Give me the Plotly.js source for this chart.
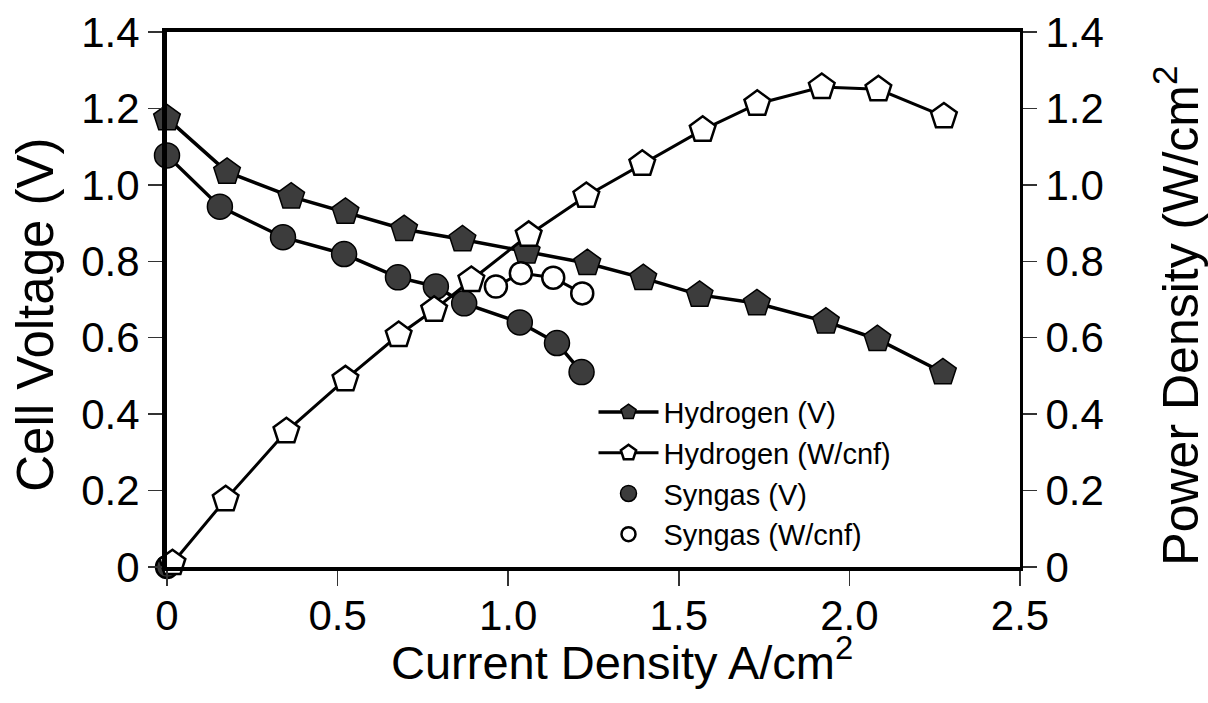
<!DOCTYPE html>
<html>
<head>
<meta charset="utf-8">
<script src="https://cdn.plot.ly/plotly-3.0.1.min.js"></script>
<style>html,body{margin:0;padding:0;background:#fff;}#chart{width:1208px;height:703px;}</style>
</head>
<body>
<div id="chart"></div>
<script>
// Current density (A/cm2) and values
const h2VoltCurrent = [0, 0.176, 0.364, 0.523, 0.695, 0.866, 1.054, 1.232, 1.396, 1.561, 1.729, 1.931, 2.082, 2.274];
const h2Voltage     = [1.174, 1.034, 0.969, 0.929, 0.884, 0.857, 0.825, 0.795, 0.756, 0.712, 0.690, 0.642, 0.596, 0.509];

const h2PowerCurrent = [0.016, 0.172, 0.35, 0.523, 0.679, 0.783, 0.892, 1.06, 1.229, 1.393, 1.57, 1.73, 1.919, 2.085, 2.277];
const h2Power        = [0.01, 0.177, 0.355, 0.491, 0.607, 0.673, 0.751, 0.869, 0.971, 1.055, 1.144, 1.212, 1.256, 1.25, 1.179];

const sgVoltCurrent = [0, 0.155, 0.34, 0.519, 0.677, 0.788, 0.871, 1.034, 1.143, 1.215];
const sgVoltage     = [1.077, 0.943, 0.863, 0.819, 0.758, 0.734, 0.690, 0.640, 0.586, 0.510];

const sgPowerCurrent = [0, null, 0.964, 1.037, 1.132, 1.217];
const sgPower        = [0, null, 0.734, 0.769, 0.757, 0.716];

const yTickVals = [0, 0.2, 0.4, 0.6, 0.8, 1.0, 1.2, 1.4];
const yTickText = ['0', '0.2', '0.4', '0.6', '0.8', '1.0', '1.2', '1.4'];
const xTickVals = [0, 0.5, 1.0, 1.5, 2.0, 2.5];
const xTickText = ['0', '0.5', '1.0', '1.5', '2.0', '2.5'];

const FONT = 'Liberation Sans, Arial, Helvetica, sans-serif';
const DARK = '#3c3c3c';

const sgPowerColors = sgPowerCurrent.map((v, i) => i === 0 ? DARK : '#ffffff');

const traces = [
  {
    x: sgPowerCurrent, y: sgPower, yaxis: 'y2', mode: 'lines+markers', name: 'Syngas (W/cnf)',
    showlegend: false, cliponaxis: false, connectgaps: false,
    line: {color: '#000', width: 3},
    marker: {symbol: 'circle', size: 22, color: sgPowerColors, line: {color: '#000', width: 2.5}}
  },
  {
    x: sgVoltCurrent, y: sgVoltage, mode: 'lines+markers', name: 'Syngas (V)',
    showlegend: false, cliponaxis: false,
    line: {color: '#000', width: 3.5},
    marker: {symbol: 'circle', size: 25, color: DARK, line: {color: '#000', width: 1.5}}
  },
  {
    x: h2VoltCurrent, y: h2Voltage, mode: 'lines+markers', name: 'Hydrogen (V)',
    legendrank: 1, cliponaxis: false,
    line: {color: '#000', width: 3.5},
    marker: {symbol: 'pentagon', size: 28, color: DARK, line: {color: '#000', width: 1.5}}
  },
  {
    x: h2PowerCurrent, y: h2Power, yaxis: 'y2', mode: 'lines+markers', name: 'Hydrogen (W/cnf)',
    legendrank: 2, cliponaxis: false,
    line: {color: '#000', width: 3},
    marker: {symbol: 'pentagon', size: 27, color: '#ffffff', line: {color: '#000', width: 2.5}}
  },
  {
    x: [null], y: [null], mode: 'markers', name: 'Syngas (V)', legendrank: 3,
    marker: {symbol: 'circle', size: 16, color: DARK, line: {color: '#000', width: 1.5}}
  },
  {
    x: [null], y: [null], mode: 'markers', name: 'Syngas (W/cnf)', legendrank: 4,
    marker: {symbol: 'circle', size: 14, color: '#fff', line: {color: '#000', width: 2.5}}
  }
];

const tickCommon = {
  ticks: 'outside', ticklen: 14, tickwidth: 1.5, tickcolor: '#333',
  showgrid: false, zeroline: false,
  tickfont: {family: FONT, size: 42, color: '#000'}
};

const layout = {
  width: 1208, height: 703,
  margin: {l: 167, r: 188, t: 32, b: 136, pad: 0},
  paper_bgcolor: '#fff', plot_bgcolor: '#fff',
  font: {family: FONT, color: '#000'},
  showlegend: true,
  legend: {
    x: 0.50, y: 0.337, xanchor: 'left', yanchor: 'top',
    bgcolor: 'rgba(0,0,0,0)', borderwidth: 0,
    font: {family: FONT, size: 29, color: '#000'},
    itemwidth: 60, tracegroupgap: 0
  },
  xaxis: Object.assign({}, tickCommon, {
    range: [0, 2.5], tickvals: xTickVals, ticktext: xTickText,
    showline: true, linewidth: 4, linecolor: '#000', mirror: true, ticklen: 15,
    ticklabelstandoff: -6
  }),
  yaxis: Object.assign({}, tickCommon, {
    range: [0, 1.4], tickvals: yTickVals, ticktext: yTickText,
    showline: true, linewidth: 5, linecolor: '#000'
  }),
  yaxis2: Object.assign({}, tickCommon, {
    range: [0, 1.4], tickvals: yTickVals, ticktext: yTickText,
    overlaying: 'y', side: 'right',
    showline: true, linewidth: 3, linecolor: '#000'
  }),
  annotations: [
    {text: 'Current Density A/cm<sup>2</sup>', xref: 'paper', yref: 'paper', x: 0.533, y: -0.172,
     xanchor: 'center', yanchor: 'middle', showarrow: false, font: {family: FONT, size: 47, color: '#000'}},
    {text: 'Cell Voltage (V)', xref: 'paper', yref: 'paper', x: -0.155, y: 0.471, textangle: -90,
     xanchor: 'center', yanchor: 'middle', showarrow: false, font: {family: FONT, size: 51, color: '#000'}},
    {text: 'Power Density (W/cm<sup>2</sup>', xref: 'paper', yref: 'paper', x: 1.183, y: 0.47, textangle: -90,
     xanchor: 'center', yanchor: 'middle', showarrow: false, font: {family: FONT, size: 50, color: '#000'}}
  ]
};

Plotly.newPlot('chart', traces, layout, {displayModeBar: false, staticPlot: true});
</script>
</body>
</html>
